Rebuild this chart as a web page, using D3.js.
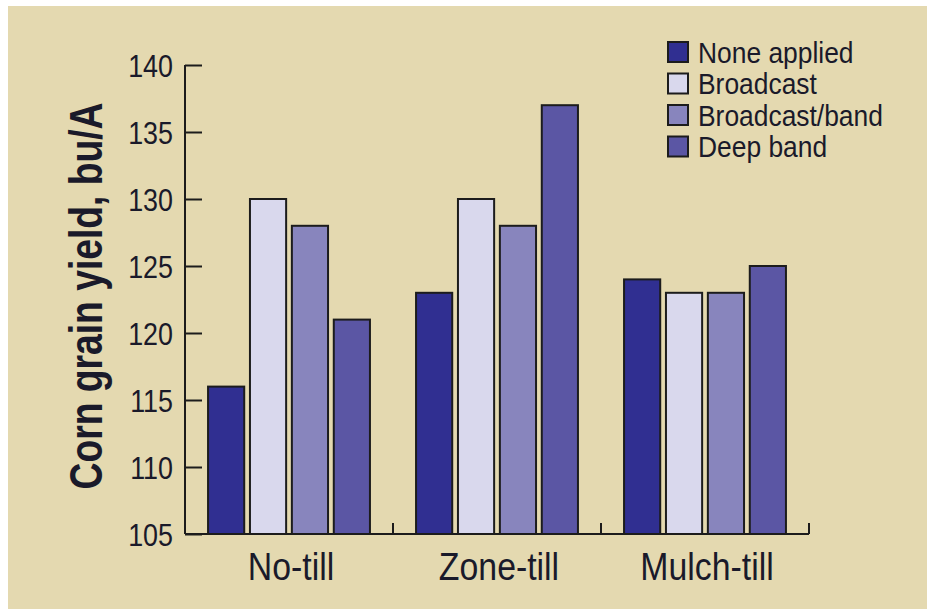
<!DOCTYPE html>
<html>
<head>
<meta charset="utf-8">
<script src="https://cdn.jsdelivr.net/npm/d3@7"></script>
<style>
  body { margin: 0; background: #fff; }
  svg text { font-family: "Liberation Sans Narrow", "Liberation Sans", Arial, sans-serif; fill: #1a1a2a; }
</style>
</head>
<body>
<svg width="927" height="609"></svg>
<script>
const categories = ["No-till", "Zone-till", "Mulch-till"];
const seriesNames = ["None applied", "Broadcast", "Broadcast/band", "Deep band"];
const seriesColors = ["#302f91", "#d9d8ed", "#8885bd", "#5b56a4"];
// yields per category, in series order
const noTill = [116, 130, 128, 121];
const zoneTill = [123, 130, 128, 137];
const mulchTill = [124, 123, 123, 125];
const yTicks = [105, 110, 115, 120, 125, 130, 135, 140];

const values = [noTill, zoneTill, mulchTill];
const data = categories.map((c, i) => ({
  name: c,
  vals: seriesNames.map((s, j) => ({ key: s, value: values[i][j] }))
}));

// the original uses a condensed face; squeeze regular glyphs horizontally
const narrow = 0.88;

const svg = d3.select("svg");

// beige panel
svg.append("rect")
  .attr("x", 8).attr("y", 6)
  .attr("width", 927 - 8).attr("height", 609 - 6)
  .attr("fill", "#e4d9b0");

const plotLeft = 185, plotRight = 809, plotTop = 65, plotBottom = 534;

const x0 = d3.scaleBand().domain(categories).range([plotLeft, plotRight]).padding(0);
const x1 = d3.scaleBand().domain(seriesNames)
  .range([0, x0.bandwidth()])
  .paddingInner(0.137)
  .paddingOuter(0.55);
const y = d3.scaleLinear().domain([105, 140]).range([plotBottom, plotTop]);
const color = d3.scaleOrdinal().domain(seriesNames).range(seriesColors);

// bars
const g = svg.append("g");
g.selectAll(".grp")
  .data(data)
  .enter()
  .append("g")
  .attr("class", "grp")
  .attr("transform", d => `translate(${x0(d.name)},0)`)
  .selectAll("rect")
  .data(d => d.vals)
  .enter()
  .append("rect")
  .attr("x", d => x1(d.key))
  .attr("y", d => y(d.value))
  .attr("width", x1.bandwidth())
  .attr("height", d => plotBottom - y(d.value))
  .attr("fill", d => color(d.key))
  .attr("stroke", "#1c1c1c")
  .attr("stroke-width", 2);

// y axis, ticks point inward
const yAxis = svg.append("g")
  .attr("transform", `translate(${plotLeft},0)`)
  .call(d3.axisRight(y).tickValues(yTicks).tickSize(17).tickFormat(d3.format("d")));
yAxis.select(".domain").remove();
yAxis.selectAll("line").attr("stroke", "#1c1c1c").attr("stroke-width", 2);
yAxis.selectAll("text")
  .attr("x", 0)
  .attr("transform", `translate(-12,0) scale(0.84,1)`)
  .attr("dy", "0.36em")
  .attr("text-anchor", "end")
  .attr("font-family", null)
  .attr("font-size", null)
  .style("font-size", "32px")
  .attr("fill", "#1a1a2a");
svg.append("line")
  .attr("x1", plotLeft).attr("x2", plotLeft)
  .attr("y1", plotTop).attr("y2", plotBottom)
  .attr("stroke", "#1c1c1c").attr("stroke-width", 2);

// x axis: baseline plus upward ticks at group boundaries
svg.append("line")
  .attr("x1", plotLeft).attr("x2", plotRight)
  .attr("y1", plotBottom).attr("y2", plotBottom)
  .attr("stroke", "#1c1c1c").attr("stroke-width", 2);
svg.selectAll(".xtick")
  .data(categories)
  .enter()
  .append("line")
  .attr("class", "xtick")
  .attr("x1", d => x0(d) + x0.bandwidth())
  .attr("x2", d => x0(d) + x0.bandwidth())
  .attr("y1", plotBottom).attr("y2", plotBottom - 11)
  .attr("stroke", "#1c1c1c").attr("stroke-width", 2);
svg.selectAll(".xlab")
  .data(categories)
  .enter()
  .append("text")
  .attr("class", "xlab")
  .attr("transform", d => `translate(${x0(d) + x0.bandwidth() / 2 + 2},580) scale(0.89,1)`)
  .attr("text-anchor", "middle")
  .style("font-size", "38px")
  .text(d => d);

// y label
svg.append("text")
  .attr("transform", "translate(102,296) rotate(-90) scale(0.81,1)")
  .attr("text-anchor", "middle")
  .style("font-size", "46px")
  .style("font-weight", "bold")
  .text("Corn grain yield, bu/A");

// legend
const legend = svg.append("g").attr("transform", "translate(668,42)");
const row = legend.selectAll(".row")
  .data(seriesNames)
  .enter()
  .append("g")
  .attr("class", "row")
  .attr("transform", (d, i) => `translate(0,${i * 31.5})`);
row.append("rect")
  .attr("width", 20).attr("height", 20)
  .attr("fill", d => color(d))
  .attr("stroke", "#1c1c1c").attr("stroke-width", 2);
row.append("text")
  .attr("transform", `translate(30,10) scale(${narrow},1)`)
  .attr("dy", "0.36em")
  .style("font-size", "30px")
  .text(d => d);
</script>
</body>
</html>
